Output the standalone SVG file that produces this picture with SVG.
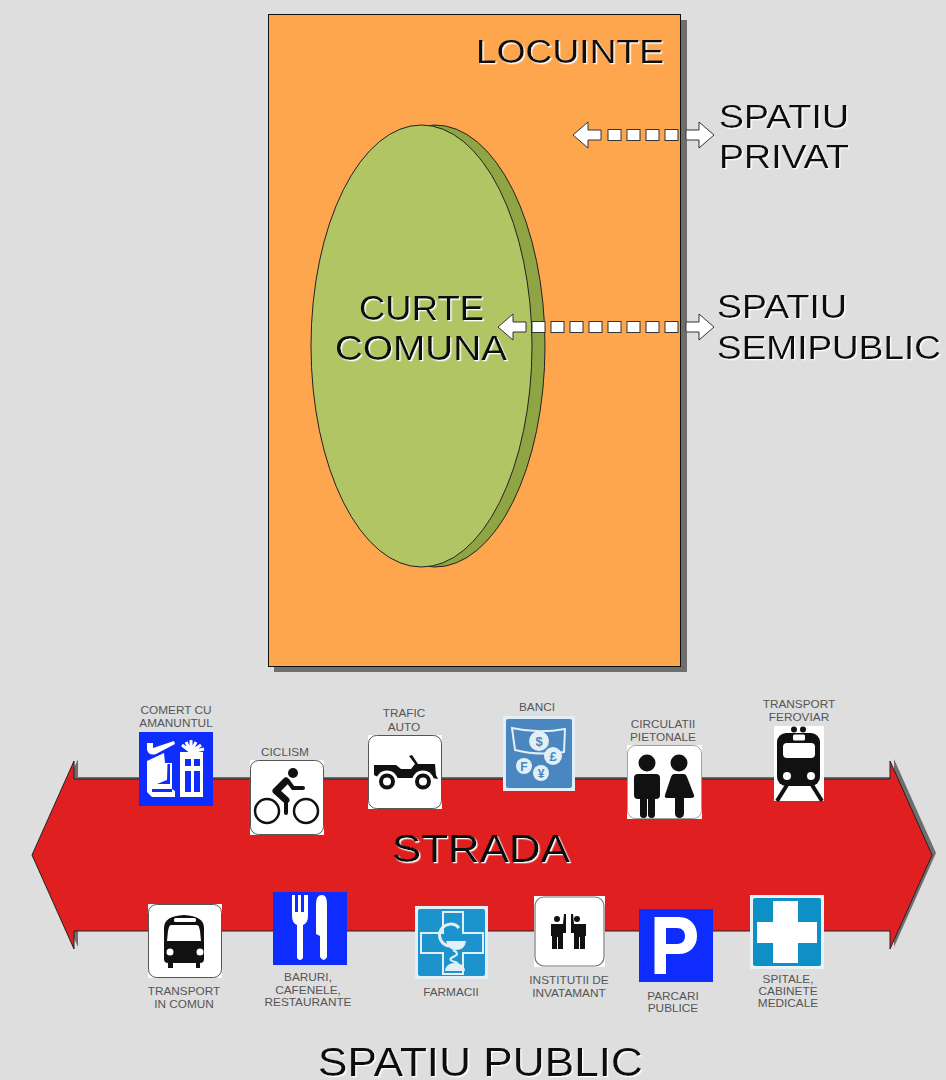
<svg xmlns="http://www.w3.org/2000/svg" width="946" height="1080" viewBox="0 0 946 1080">
<style>
text{font-family:"Liberation Sans",Arial,sans-serif}
.big{font-size:34px;fill:#111;filter:url(#halo)}
.lab{font-size:11.8px;fill:#555;text-anchor:middle}
.ol{fill:#fff;stroke:#555;stroke-width:1}
.da{fill:#fff;stroke:#333;stroke-width:1}
.k{fill:#111}
.w{fill:#fff}
.ks{fill:none;stroke:#111;stroke-linecap:round;stroke-linejoin:round}
</style>
<defs>
<filter id="halo" x="-5%" y="-20%" width="110%" height="140%"><feDropShadow dx="1.300" dy="1.300" stdDeviation="0.400" flood-color="#fff"/></filter>
<path id="ah" d="M0,0 L15,-13 V-5 H28 V5 H15 V13 Z"/>
<rect id="sq" x="0" y="-5.500" width="13" height="11"/>
<path id="st" d="M32,855 L74,761 V779 H890 V761 L932,855 L890,949 V931 H74 V949 Z"/>
</defs>
<rect width="946" height="1080" fill="#dedede"/>

<g id="locuinte">
<rect x="274" y="20" width="413" height="652" fill="#6e6e6e"/>
<rect x="268.500" y="14.500" width="412" height="652" fill="#fea64e" stroke="#111" stroke-width="1"/>
<text class="big" x="476" y="63" textLength="188" lengthAdjust="spacingAndGlyphs">LOCUINTE</text>
</g>

<g id="curte">
<ellipse cx="435" cy="346" rx="110" ry="221" fill="#8fa544" stroke="#222" stroke-width="1"/>
<ellipse cx="421.500" cy="346" rx="110.500" ry="221" fill="#b1c565" stroke="#222" stroke-width="1"/>
<text class="big" style="font-size:35px" x="359" y="319.500" textLength="125" lengthAdjust="spacingAndGlyphs">CURTE</text>
<text class="big" style="font-size:35px" x="335" y="359.500" textLength="172" lengthAdjust="spacingAndGlyphs">COMUNA</text>
</g>

<g id="connectors">
<g class="da">
<use href="#ah" transform="translate(573,135)"/>
<use href="#sq" x="608" y="135"/><use href="#sq" x="627" y="135"/><use href="#sq" x="646" y="135"/><use href="#sq" x="665" y="135"/>
<use href="#ah" transform="translate(714,135) scale(-1,1)"/>
<use href="#ah" transform="translate(498,327)"/>
<use href="#sq" x="532" y="327"/><use href="#sq" x="551" y="327"/><use href="#sq" x="570" y="327"/><use href="#sq" x="589" y="327"/><use href="#sq" x="608" y="327"/><use href="#sq" x="627" y="327"/><use href="#sq" x="646" y="327"/><use href="#sq" x="665" y="327"/>
<use href="#ah" transform="translate(714,327) scale(-1,1)"/>
</g>
</g>

<g id="spatiu-privat">
<text class="big" x="719" y="128" textLength="130" lengthAdjust="spacingAndGlyphs">SPATIU</text>
<text class="big" x="719" y="168" textLength="130" lengthAdjust="spacingAndGlyphs">PRIVAT</text>
</g>
<g id="spatiu-semipublic">
<text class="big" x="717" y="318" textLength="130" lengthAdjust="spacingAndGlyphs">SPATIU</text>
<text class="big" x="717" y="359" textLength="224" lengthAdjust="spacingAndGlyphs">SEMIPUBLIC</text>
</g>

<g id="strada">
<use href="#st" x="4" y="-2" fill="#6e6e6e"/>
<use href="#st" fill="#e01f20" stroke="#222" stroke-width="1"/>
<text class="big" style="font-size:38px" x="392" y="862" textLength="178" lengthAdjust="spacingAndGlyphs">STRADA</text>
</g>

<g id="comert" transform="translate(139,732)">
<rect width="74" height="74" fill="#0f2cff"/>
<path class="w" d="M8,11 H14 V16 L35,9 L36,12 L17,22 Q10,24 8,18 Z"/>
<path class="w" d="M8,29 L25,21 L26,31 H33 V57 L36,59 V65 H13 L8,60 Z"/>
<path d="M28.500,32 H31 V52 H18 L28,48 Z M13,57 H33 V60 H13 Z" fill="#0f2cff"/>
<rect class="w" x="41" y="20" width="23" height="45"/>
<path d="M46,27 H52 V34 H46 Z M55,27 H61 V34 H55 Z M46,39 H52 V60 H46 Z M55,39 H61 V60 H55 Z" fill="#0f2cff"/>
<path d="M52,20 L43,13 M52,20 L47,10 M52,20 V8 M52,20 L57,10 M52,20 L62,13 M52,20 L65,17" stroke="#fff" stroke-width="3" fill="none"/>
</g>
<text class="lab"><tspan x="176" y="714">COMERT CU</tspan><tspan x="176" y="727">AMANUNTUL</tspan></text>

<g id="ciclism" transform="translate(250,760)">
<rect width="74" height="75" fill="#fff"/>
<rect x=".5" y=".5" width="73" height="74" rx="8" class="ol"/>
<circle cx="43" cy="13" r="5" class="k"/>
<circle cx="17" cy="51" r="12" class="ks" stroke-width="2.500"/>
<circle cx="56" cy="51" r="12" class="ks" stroke-width="2.500"/>
<path class="ks" stroke-width="7" d="M36,21 L26,31 L36,40"/>
<path class="ks" stroke-width="4" d="M36,40 V53 M38,21 L43,28 H53"/>
</g>
<text class="lab" x="285" y="756">CICLISM</text>

<g id="trafic" transform="translate(368,735)">
<rect width="74" height="74" fill="#fff"/>
<rect x=".5" y=".5" width="73" height="73" rx="8" class="ol"/>
<path class="k" d="M6,30 H28 L33,34 H43 L47,29 L41,21 L44,20 L50,29 H67 L68,40 L70,44 L64,43 H12 L6,40 Z"/>
<circle cx="19" cy="46.500" r="11" fill="#fff"/>
<circle cx="55" cy="46.500" r="11" fill="#fff"/>
<circle cx="19" cy="46.500" r="6" fill="#fff" stroke="#111" stroke-width="4"/>
<circle cx="55" cy="46.500" r="6" fill="#fff" stroke="#111" stroke-width="4"/>
</g>
<text class="lab"><tspan x="404" y="717">TRAFIC</tspan><tspan x="404" y="731">AUTO</tspan></text>

<g id="banci" transform="translate(503,716)">
<rect width="72" height="75" fill="#e3eff6"/>
<rect x="3" y="3" width="66" height="69" rx="2" fill="#4a86bf"/>
<path d="M9,12 Q35,18 62,13 L61,36 Q35,40 12,34 Z" fill="none" stroke="#e3eff6" stroke-width="2"/>
<g fill="#e3eff6"><circle cx="36" cy="25" r="10"/><circle cx="50" cy="40" r="9"/><circle cx="21" cy="50" r="8"/><circle cx="38" cy="57" r="8"/></g>
<g fill="#4a86bf" font-weight="700" text-anchor="middle" font-size="13"><text x="36" y="30">$</text><text x="50" y="45">£</text><text x="21" y="55" font-size="12">F</text><text x="38" y="62" font-size="12">¥</text></g>
</g>
<text class="lab" x="537" y="711">BANCI</text>

<g id="circulatii" transform="translate(627,745)">
<rect width="75" height="74" fill="#fff"/>
<rect x=".5" y=".5" width="74" height="73" rx="8" fill="#fff" stroke="#888" stroke-width=".8"/>
<circle cx="20" cy="18" r="8.500" class="k"/>
<rect x="7" y="29" width="26" height="25" rx="4" class="k"/>
<rect x="13" y="48" width="7" height="25" rx="3.500" class="k"/>
<rect x="21" y="48" width="7" height="25" rx="3.500" class="k"/>
<circle cx="52" cy="18" r="8.500" class="k"/>
<path class="k" d="M47,29 H57 Q59,29 60,32 L67,50 Q68,53 64,53 H40 Q37,53 38,50 L44,32 Q45,29 47,29 Z"/>
<rect x="48" y="48" width="9" height="25" rx="4.500" class="k"/>
</g>
<text class="lab"><tspan x="663" y="728">CIRCULATII</tspan><tspan x="663" y="741">PIETONALE</tspan></text>

<g id="feroviar" transform="translate(774,726)">
<rect width="50" height="75" fill="#fff"/>
<circle cx="20" cy="3.500" r="3" class="k"/><circle cx="29" cy="3.500" r="3" class="k"/>
<rect x="3" y="7" width="43" height="53" rx="9" class="k"/>
<rect x="19" y="8.500" width="12" height="6" rx="1.500" class="w"/>
<rect x="9" y="17" width="32" height="15" rx="4" class="w"/>
<circle cx="13" cy="50" r="4" class="w"/><circle cx="37" cy="50" r="4" class="w"/>
<path d="M13,59 L3,75 M38,59 L48,75" stroke="#111" stroke-width="4" fill="none"/>
</g>
<text class="lab"><tspan x="799" y="708">TRANSPORT</tspan><tspan x="799" y="721">FEROVIAR</tspan></text>

<g id="transport-comun" transform="translate(148,904)">
<rect width="74" height="74" fill="#fff"/>
<rect x=".5" y=".5" width="73" height="73" rx="8" class="ol"/>
<path class="k" d="M16,24 Q16,12 36,11 Q56,12 56,24 V55 Q56,59 52,59 V64 H48 V59 H25 V64 H20 V59 Q16,59 16,55 Z"/>
<rect x="26" y="14" width="22" height="4" rx="1.500" class="w"/>
<path class="w" d="M23,21 H49 Q51,21 52,27 L53,37 H19 L20,27 Q21,21 23,21 Z"/>
<circle cx="22" cy="48" r="3.500" class="w"/><circle cx="52" cy="48" r="3.500" class="w"/>
</g>
<text class="lab"><tspan x="184" y="995">TRANSPORT</tspan><tspan x="184" y="1008">IN COMUN</tspan></text>

<g id="baruri" transform="translate(273,892)">
<rect width="74" height="73" fill="#0f2cff"/>
<path class="w" d="M19,3 H22 V20 H25 V3 H28 V20 H31 V3 H35 V24 Q35,31 30,33 V66 Q27,70 24,66 V33 Q19,31 19,24 Z"/>
<path class="w" d="M43,12 Q43,3 49,3 Q54,3 54,12 V65 Q51,71 47,65 V44 L43,42 Z"/>
</g>
<text class="lab"><tspan x="308" y="981">BARURI,</tspan><tspan x="308" y="994">CAFENELE,</tspan><tspan x="308" y="1006">RESTAURANTE</tspan></text>

<g id="farmacii" transform="translate(415,906)">
<rect width="73" height="73" fill="#e3eff6"/>
<rect x="3" y="3" width="67" height="67" rx="2" fill="#1d93cd"/>
<path d="M28,6 H48 V27 H68 V47 H48 V68 H28 V47 H6 V27 H28 Z" fill="none" stroke="#e3eff6" stroke-width="2"/>
<path d="M44,22 A11,11 0 1 0 34,40" fill="none" stroke="#e3eff6" stroke-width="3"/>
<path d="M31,35 H51 Q50,44 41,44 Q33,44 31,35 Z" fill="#e3eff6"/>
<path d="M38,44 Q46,48 38,51 Q32,54 40,56 Q46,58 38,60" fill="none" stroke="#e3eff6" stroke-width="2"/>
<path d="M30,65 Q31,57 40,57 Q49,57 50,65 Z" fill="#e3eff6"/>
</g>
<text class="lab" x="451" y="996">FARMACII</text>

<g id="institutii" transform="translate(534,896)">
<rect width="71" height="71" fill="#fff"/>
<rect x="1" y="1" width="69" height="69" rx="9" fill="#fff" stroke="#777" stroke-width="1.200"/>
<circle cx="23" cy="23" r="3" class="k"/>
<path class="k" d="M17,28 H29 L30,18 H32 V37 H29 V53 H24 V41 H23 V53 H18 V40 H17 Z"/>
<circle cx="43" cy="23" r="3" class="k"/>
<path class="k" d="M37,18 H39 L40,28 H52 V40 H51 V53 H46 V41 H45 V53 H40 V37 H37 Z"/>
</g>
<text class="lab"><tspan x="569" y="984">INSTITUTII DE</tspan><tspan x="569" y="997">INVATAMANT</tspan></text>

<g id="parcari" transform="translate(639,909)">
<rect width="74" height="73" fill="#0f2cff"/>
<path class="w" fill-rule="evenodd" d="M15.500,8 H40 C52,8 58,17 58,27 C58,38 50,45 40,45 H27 V65 H15.500 Z M27,19 V35 H38 C44,35 46,31 46,27 C46,22 43,19 38,19 Z"/>
</g>
<text class="lab"><tspan x="673" y="1000">PARCARI</tspan><tspan x="673" y="1012">PUBLICE</tspan></text>

<g id="spitale" transform="translate(750,895)">
<rect width="74" height="74" fill="#e8f3f8"/>
<rect x="3" y="3" width="68" height="68" rx="2" fill="#0e8fc6"/>
<path class="w" d="M23,6 H48 V27 H67 V48 H48 V68 H23 V48 H7 V27 H23 Z"/>
</g>
<text class="lab"><tspan x="788" y="983">SPITALE,</tspan><tspan x="788" y="995">CABINETE</tspan><tspan x="788" y="1007">MEDICALE</tspan></text>

<g id="spatiu-public">
<text class="big" style="font-size:40px" x="318" y="1075.500" textLength="325" lengthAdjust="spacingAndGlyphs">SPATIU PUBLIC</text>
</g>
</svg>
